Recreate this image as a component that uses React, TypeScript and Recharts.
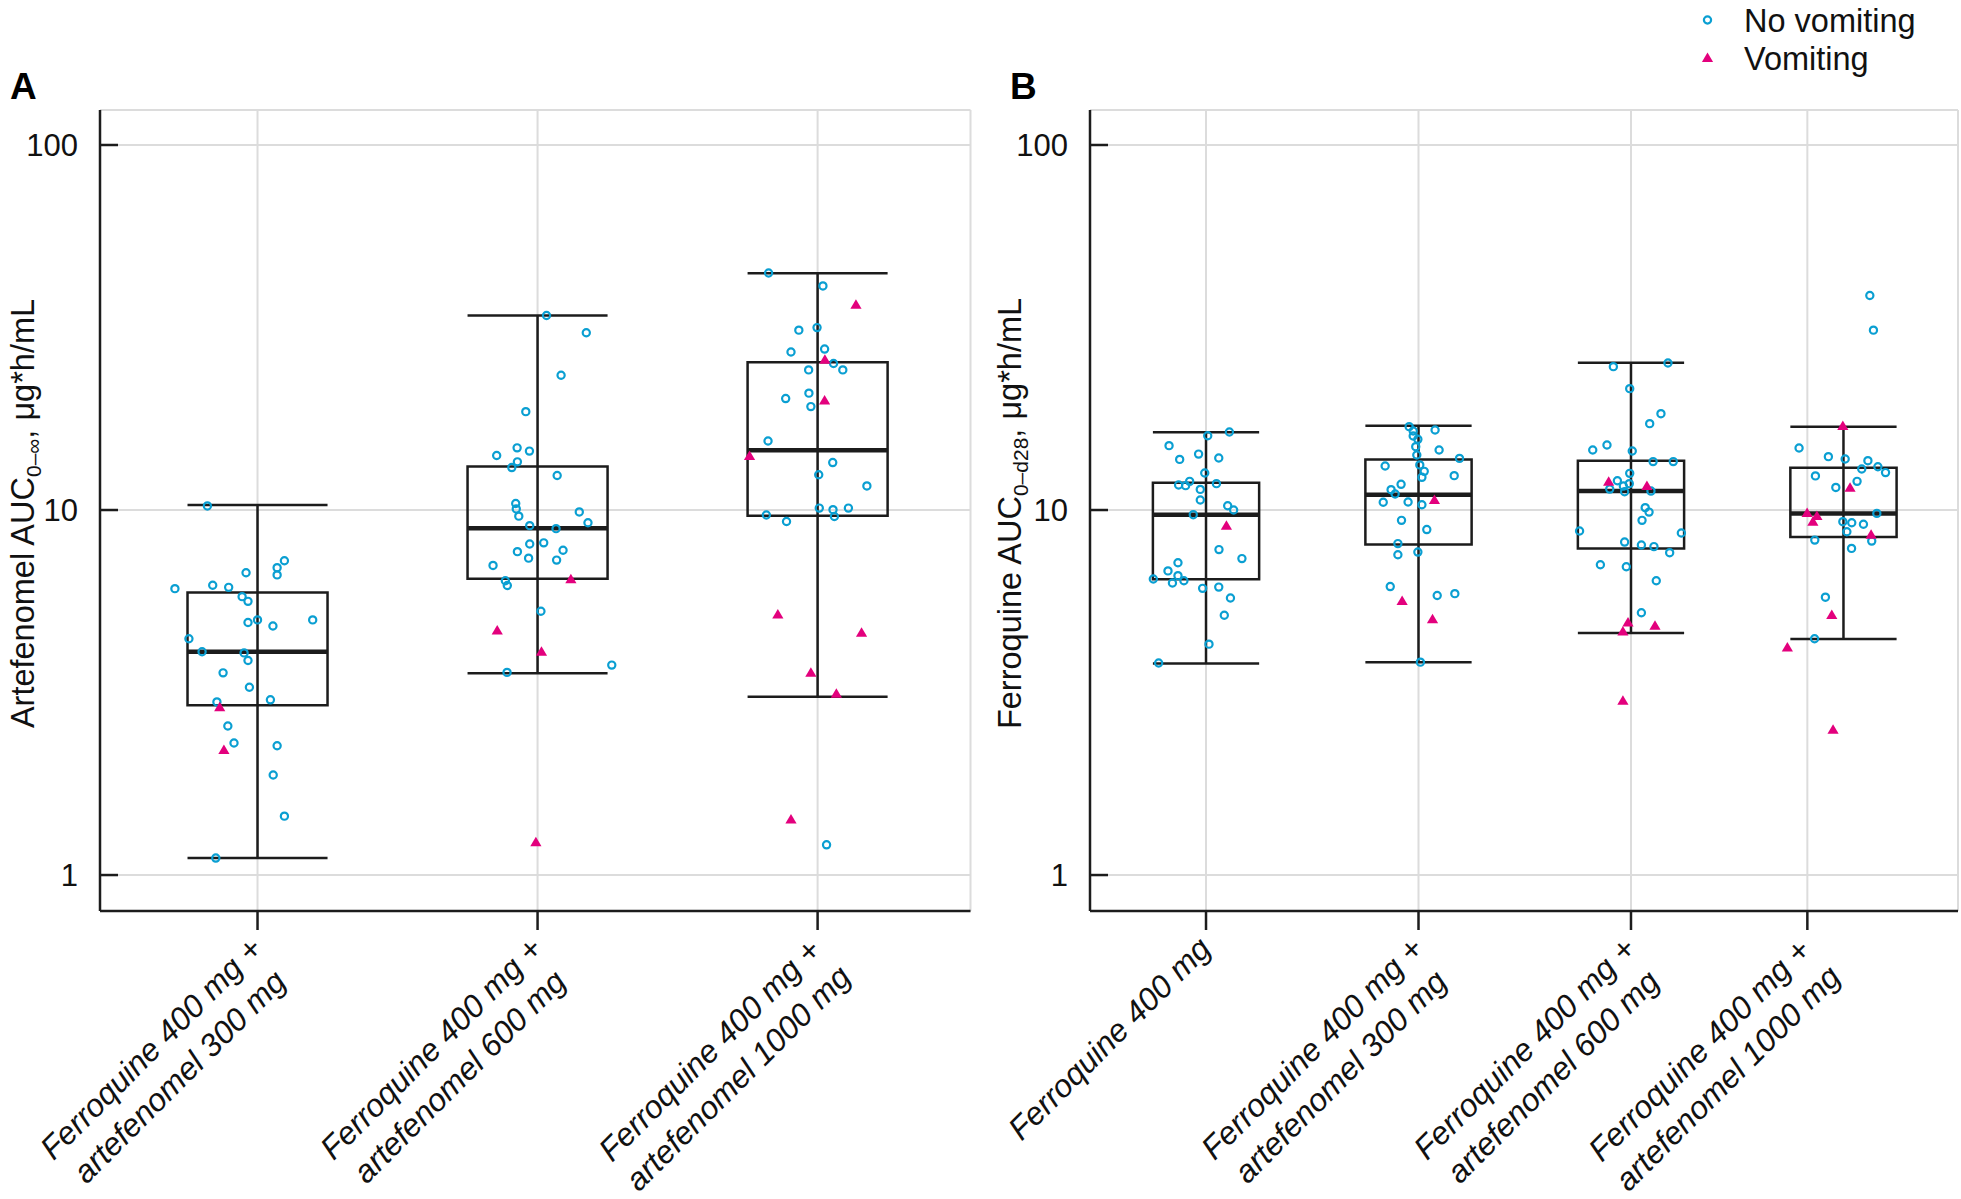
import React from 'react';
import {
  ComposedChart, Scatter, XAxis, YAxis, CartesianGrid,
  ReferenceArea, ReferenceLine, Legend,
} from 'recharts';

// ---------------- data ----------------
// Panel A: artefenomel AUC0-inf
const catsA = [
  ['Ferroquine 400 mg +', 'artefenomel 300 mg'],
  ['Ferroquine 400 mg +', 'artefenomel 600 mg'],
  ['Ferroquine 400 mg +', 'artefenomel 1000 mg'],
];
const posA = [1, 2, 3];
const ticksA = [1, 2, 3];
const loA = [1.113, 3.57, 3.08];
const q1A = [2.92, 6.48, 9.64];
const medA = [4.09, 8.91, 14.58];
const q3A = [5.94, 13.16, 25.4];
const hiA = [10.32, 34.1, 44.5];

// [jitter offset, value]
const A1_no = [[-0.179,10.26],[0.096,7.26],[0.07,6.95],[0.07,6.64],[-0.041,6.73],[-0.295,6.09],[-0.16,6.22],[-0.103,6.14],[-0.055,5.79],[-0.034,5.62],[-0.034,4.92],[0,5.0],[0.055,4.81],[0.197,5.0],[-0.245,4.44],[-0.198,4.09],[-0.048,4.06],[-0.034,3.87],[-0.123,3.58],[-0.029,3.27],[0.046,3.02],[-0.145,2.98],[-0.106,2.56],[-0.084,2.3],[0.07,2.26],[0.056,1.88],[0.096,1.45],[-0.149,1.113]];
const A1_vom = [[-0.135,2.88],[-0.12,2.2]];
const A2_no = [[0.032,34.1],[0.174,30.6],[0.084,23.4],[-0.042,18.6],[-0.073,14.8],[-0.146,14.1],[-0.029,14.5],[-0.072,13.55],[-0.092,13.07],[0.07,12.43],[-0.078,10.42],[-0.076,10.07],[-0.067,9.62],[0.149,9.88],[0.18,9.23],[-0.028,9.06],[0.066,8.89],[-0.028,8.07],[0.022,8.13],[-0.072,7.69],[0.091,7.76],[-0.032,7.38],[0.068,7.29],[-0.159,7.05],[-0.115,6.4],[-0.108,6.21],[0.012,5.28],[0.265,3.76],[-0.109,3.59]];
const A2_vom = [[0.119,6.46],[-0.144,4.68],[0.014,4.09],[-0.006,1.23]];
const A3_no = [[-0.175,44.6],[0.019,41.1],[-0.067,31.1],[-0.002,31.6],[-0.095,27.1],[0.025,27.6],[0.057,25.2],[0.09,24.2],[-0.032,24.2],[-0.031,20.9],[-0.114,20.2],[-0.024,19.2],[-0.177,15.45],[0.054,13.49],[0.004,12.49],[0.176,11.64],[0.006,10.12],[0.055,10.02],[0.11,10.12],[0.06,9.6],[-0.183,9.69],[-0.111,9.3],[0.032,1.21]];
const A3_vom = [[0.137,36.5],[0.026,25.8],[0.025,19.95],[-0.243,14.06],[-0.142,5.17],[0.157,4.61],[-0.024,3.58],[0.067,3.14],[-0.095,1.42]];

// Panel B: ferroquine AUC0-d28
const catsB = [
  ['Ferroquine 400 mg'],
  ['Ferroquine 400 mg +', 'artefenomel 300 mg'],
  ['Ferroquine 400 mg +', 'artefenomel 600 mg'],
  ['Ferroquine 400 mg +', 'artefenomel 1000 mg'],
];
const posB = [1, 2, 3, 4];
const ticksB = [1, 2, 3, 3.83];
const loB = [3.8, 3.83, 4.6, 4.43];
const q1B = [6.46, 8.05, 7.84, 8.44];
const medB = [9.71, 11.01, 11.27, 9.79];
const q3B = [11.88, 13.76, 13.65, 13.06];
const hiB = [16.32, 17.02, 25.33, 16.92];

const B1_no = [[0.11,16.36],[0.008,15.98],[-0.174,15.01],[-0.124,13.76],[-0.035,14.23],[0.06,13.88],[-0.006,12.63],[-0.129,11.71],[-0.096,11.66],[-0.077,11.98],[0.049,11.81],[-0.027,11.39],[-0.027,10.65],[0.102,10.27],[0.13,10.0],[-0.06,9.71],[0.061,7.79],[0.169,7.36],[-0.132,7.17],[-0.179,6.81],[-0.132,6.61],[-0.248,6.47],[-0.158,6.31],[-0.104,6.4],[-0.016,6.1],[0.06,6.15],[0.115,5.74],[0.086,5.15],[0.014,4.29],[-0.223,3.81]];
const B1_vom = [[0.096,9.06]];
const B2_no = [[-0.044,16.92],[-0.025,16.46],[-0.025,15.95],[-0.003,15.62],[0.078,16.57],[-0.013,14.91],[-0.008,14.15],[0.097,14.6],[0.193,13.85],[-0.157,13.2],[0.006,13.29],[0.027,12.76],[0.016,12.29],[0.168,12.42],[-0.082,11.76],[-0.129,11.37],[-0.11,11.06],[-0.166,10.5],[-0.049,10.52],[0.016,10.34],[-0.08,9.37],[0.039,8.84],[-0.097,8.09],[-0.097,7.54],[-0.003,7.67],[-0.133,6.17],[0.088,5.83],[0.171,5.9],[0.009,3.83]];
const B2_vom = [[0.075,10.65],[-0.077,5.63],[0.066,5.02]];
const B3_no = [[0.174,25.28],[-0.083,24.7],[-0.006,21.5],[0.141,18.36],[0.088,17.24],[-0.18,14.6],[-0.113,15.07],[0.006,14.51],[0.104,13.57],[0.199,13.57],[-0.006,12.6],[-0.064,12.03],[-0.008,11.81],[-0.036,11.63],[-0.1,11.41],[-0.03,11.22],[0.094,11.27],[0.067,10.15],[0.085,9.87],[0.052,9.37],[-0.242,8.76],[0.237,8.65],[-0.03,8.17],[0.049,8.02],[0.108,7.94],[0.182,7.64],[-0.144,7.08],[-0.022,6.99],[0.119,6.4],[0.049,5.23]];
const B3_vom = [[-0.105,11.96],[0.075,11.63],[-0.014,4.92],[0.113,4.82],[-0.038,4.65],[-0.038,3.0]];
const B4_no = [[0.124,38.7],[0.141,31.1],[-0.209,14.79],[-0.071,14.0],[0.008,13.8],[0.115,13.65],[0.086,12.95],[0.162,13.14],[0.198,12.66],[-0.132,12.4],[0.064,11.98],[-0.036,11.53],[0.157,9.79],[-0.003,9.29],[0.039,9.23],[0.094,9.14],[0.016,8.72],[0.133,8.22],[-0.135,8.27],[0.038,7.85],[-0.085,5.77],[-0.136,4.44]];
const B4_vom = [[-0.003,16.99],[0.031,11.51],[-0.171,9.81],[-0.125,9.63],[-0.144,9.29],[0.13,8.56],[-0.055,5.16],[-0.264,4.2],[-0.049,2.5]];

const yTicks = [1, 10, 100];
const seriesNames = ['No vomiting', 'Vomiting'];

// ---------------- styling ----------------
const FONT = "'Liberation Sans', Arial, Helvetica, sans-serif";
const CYAN = '#0a9fd2';
const MAGENTA = '#e3007d';
const INK = '#1c1c1c';
const GRID = '#dcdcdc';
const FS = 31;
const XFS = 32;
const Y_DOMAIN: [number, number] = [0.797, 124.7];

const toPoints = (groups: number[][][], pos: number[]) =>
  groups.flatMap((g, i) => g.map(([dx, v]) => ({ x: pos[i] + dx, y: v })));

let _ctx: CanvasRenderingContext2D | null = null;
function textWidth(s: string, font: string) {
  if (!_ctx) _ctx = document.createElement('canvas').getContext('2d');
  if (!_ctx) return s.length * 15;
  _ctx.font = font;
  return _ctx.measureText(s).width;
}

const CircleShape = (p: any) => {
  if (p.cx == null || p.cy == null) return null;
  return <circle cx={p.cx} cy={p.cy} r={3.6} fill="none" stroke={CYAN} strokeWidth={2.2} />;
};
const TriShape = (p: any) => {
  if (p.cx == null || p.cy == null) return null;
  const { cx, cy } = p;
  return <path d={`M${cx},${cy - 5.5}L${cx + 5.6},${cy + 4}L${cx - 5.6},${cy + 4}Z`} fill={MAGENTA} />;
};

const YTick = (p: any) => {
  const { x, y, payload } = p;
  return (
    <g>
      <line x1={x + 22} x2={x + 40} y1={y} y2={y} stroke={INK} strokeWidth={2.5} />
      <text x={x} y={y} dy="0.36em" textAnchor="end" fontSize={FS} fontFamily={FONT} fill="#111">
        {payload.value}
      </text>
    </g>
  );
};

const makeXTick = (ticks: number[], cats: string[][]) => (p: any) => {
  const { x, y, payload } = p;
  const idx = ticks.indexOf(payload.value);
  const lines = cats[idx] || [];
  const font = `italic ${XFS}px ${FONT}`;
  const maxW = Math.max(...lines.map((l) => textWidth(l, font)));
  const multi = lines.length > 1;
  return (
    <g transform={`translate(${x - 11},${y + 3}) rotate(-45)`}>
      {lines.map((ln, k) => (
        <text key={k} x={multi ? -maxW / 2 : 0} y={25 + k * 40}
          textAnchor={multi ? 'middle' : 'end'} fontStyle="italic"
          fontSize={XFS} fontFamily={FONT} fill="#111">{ln}</text>
      ))}
    </g>
  );
};

function boxElements(pos: number[], lo: number[], q1: number[], med: number[], q3: number[], hi: number[], hw: number) {
  return pos.flatMap((p, i) => [
    <ReferenceLine key={`w${i}`} segment={[{ x: p, y: lo[i] }, { x: p, y: hi[i] }]} stroke={INK} strokeWidth={2.5} />,
    <ReferenceLine key={`lc${i}`} segment={[{ x: p - hw, y: lo[i] }, { x: p + hw, y: lo[i] }]} stroke={INK} strokeWidth={2.5} />,
    <ReferenceLine key={`hc${i}`} segment={[{ x: p - hw, y: hi[i] }, { x: p + hw, y: hi[i] }]} stroke={INK} strokeWidth={2.5} />,
    <ReferenceArea key={`b${i}`} x1={p - hw} x2={p + hw} y1={q1[i]} y2={q3[i]} fill="none" fillOpacity={0} stroke={INK} strokeWidth={2.5} />,
    <ReferenceLine key={`m${i}`} segment={[{ x: p - hw, y: med[i] }, { x: p + hw, y: med[i] }]} stroke={INK} strokeWidth={4.5} />,
  ]);
}

const LegendContent = (props: any) => {
  const payload = props.payload || [];
  return (
    <svg width={260} height={80} style={{ overflow: 'visible' }}>
      {payload.map((e: any, i: number) => {
        const cy = 20 + i * 38;
        return (
          <g key={i}>
            {i === 0
              ? <circle cx={17.5} cy={cy} r={3.6} fill="none" stroke={CYAN} strokeWidth={2.2} />
              : <path d={`M17.5,${cy - 5.5}L23.1,${cy + 4}L11.9,${cy + 4}Z`} fill={MAGENTA} />}
            <text x={54} y={cy} dy="0.36em" fontSize={FS + 1.5} fontFamily={FONT} fill="#111">{e.value}</text>
          </g>
        );
      })}
    </svg>
  );
};

type PanelProps = {
  left: number; width: number; marginRight: number;
  xDomain: [number, number]; ticks: number[]; cats: string[][];
  pos: number[]; lo: number[]; q1: number[]; med: number[]; q3: number[]; hi: number[];
  noData: { x: number; y: number }[]; vomData: { x: number; y: number }[];
  yMain: string; ySub: string; yRest: string; labelX: number; legend?: boolean;
};

function Panel(pp: PanelProps) {
  const XTick = makeXTick(pp.ticks, pp.cats);
  const frame = { stroke: INK, strokeWidth: 2.5 };
  const renderYLabel = (p: any) => {
    const vb = p.viewBox || { x: 0, y: 0, width: 0, height: 0 };
    const cy = vb.y + vb.height / 2 + 3;
    return (
      <text transform={`translate(${vb.x + pp.labelX},${cy}) rotate(-90)`} textAnchor="middle"
        fontSize={FS + 1.5} fontFamily={FONT} fill="#111">
        {pp.yMain}
        <tspan dy={7} fontSize={21}>{pp.ySub}</tspan>
        <tspan dy={-7} fontSize={FS + 1.5}>{pp.yRest}</tspan>
      </text>
    );
  };
  return (
    <div style={{ position: 'absolute', left: pp.left, top: 0 }}>
      <ComposedChart width={pp.width} height={1199}
        margin={{ top: 110, right: pp.marginRight, left: 0, bottom: 38 }}>
        <CartesianGrid stroke={GRID} strokeWidth={2} />
        <XAxis dataKey="x" type="number" domain={pp.xDomain} allowDataOverflow ticks={pp.ticks}
          interval={0} height={250} tickSize={19} tickMargin={0}
          tickLine={frame} axisLine={frame} tick={<XTick />} />
        <XAxis xAxisId="top" orientation="top" type="number" domain={[0, 1]} height={0}
          tick={false} tickLine={false} axisLine={frame} />
        <YAxis dataKey="y" type="number" scale="log" domain={Y_DOMAIN} allowDataOverflow
          ticks={yTicks} interval={0} width={100} tickSize={0} tickMargin={22}
          tickLine={false} axisLine={frame} tick={<YTick />}
          label={{ content: renderYLabel }} />
        <YAxis yAxisId="right" orientation="right" type="number" domain={[0, 1]} width={0}
          tick={false} tickLine={false} axisLine={frame} />
        {boxElements(pp.pos, pp.lo, pp.q1, pp.med, pp.q3, pp.hi, 0.25)}
        <Scatter name={seriesNames[0]} data={pp.noData} dataKey="y" shape={CircleShape} isAnimationActive={false} />
        <Scatter name={seriesNames[1]} data={pp.vomData} dataKey="y" shape={TriShape} isAnimationActive={false} />
        {pp.legend && (
          <Legend layout="vertical" align="center" verticalAlign="middle" content={LegendContent}
            wrapperStyle={{ top: 0, left: 700, width: 260, height: 80 }} />
        )}
      </ComposedChart>
    </div>
  );
}

export default function App() {
  const aNo = toPoints([A1_no, A2_no, A3_no], posA);
  const aVom = toPoints([A1_vom, A2_vom, A3_vom], posA);
  const bNo = toPoints([B1_no, B2_no, B3_no, B4_no], posB);
  const bVom = toPoints([B1_vom, B2_vom, B3_vom, B4_vom], posB);
  return (
    <div style={{ position: 'absolute', left: 0, top: 0, width: 1961, height: 1199, background: '#fff', overflow: 'hidden' }}>
      <Panel left={0} width={990} marginRight={19.5} xDomain={[0.4375, 3.546]} ticks={ticksA} cats={catsA}
        pos={posA} lo={loA} q1={q1A} med={medA} q3={q3A} hi={hiA} noData={aNo} vomData={aVom}
        yMain="Artefenomel AUC" ySub="0–∞" yRest=", μg*h/mL" labelX={34} />
      <Panel left={990} width={971} marginRight={3} xDomain={[0.454, 4.539]} ticks={ticksB} cats={catsB}
        pos={posB} lo={loB} q1={q1B} med={medB} q3={q3B} hi={hiB} noData={bNo} vomData={bVom}
        yMain="Ferroquine AUC" ySub="0–d28" yRest=", μg*h/mL" labelX={31} legend />
      <svg width={1961} height={1199} style={{ position: 'absolute', left: 0, top: 0, pointerEvents: 'none' }}>
        <text x={10} y={99} fontSize={37} fontWeight="bold" fontFamily={FONT} fill="#000">A</text>
        <text x={1010} y={99} fontSize={37} fontWeight="bold" fontFamily={FONT} fill="#000">B</text>
      </svg>
    </div>
  );
}
